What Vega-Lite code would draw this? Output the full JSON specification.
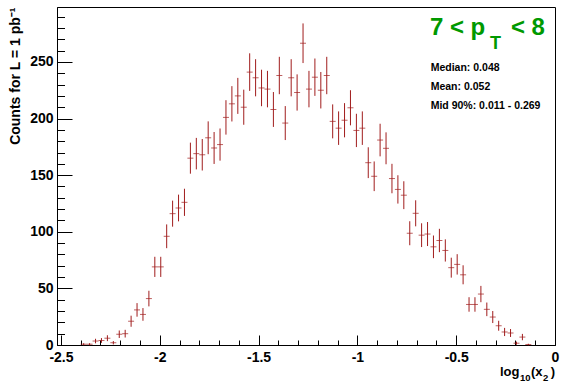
{
  "$schema": "https://vega.github.io/schema/vega-lite/v6.json",
  "width": 498,
  "height": 338,
  "autosize": {"type": "none"},
  "padding": {"left": 57, "top": 7, "right": 12, "bottom": 39},
  "background": "white",
  "config": {
    "view": {"stroke": "black", "strokeWidth": 1},
    "font": "Liberation Sans",
    "text": {"font": "Liberation Sans", "fontWeight": "bold"},
    "axis": {
      "grid": false,
      "domainColor": "black",
      "domainWidth": 1,
      "tickColor": "black",
      "tickWidth": 1,
      "labelFont": "Liberation Sans",
      "labelFontSize": 14,
      "labelFontWeight": "bold",
      "labelColor": "black",
      "titleFont": "Liberation Sans",
      "titleFontSize": 14,
      "titleFontWeight": "bold",
      "titleColor": "black"
    }
  },
  "datasets": {
    "hist": [
      {"x": -2.385, "count": 0.7, "err": 0.9},
      {"x": -2.355, "count": 0.7, "err": 0.9},
      {"x": -2.325, "count": 3.5, "err": 2.0},
      {"x": -2.295, "count": 4, "err": 2.1},
      {"x": -2.265, "count": 6, "err": 2.6},
      {"x": -2.235, "count": 2, "err": 1.5},
      {"x": -2.205, "count": 9.5, "err": 3.3},
      {"x": -2.175, "count": 10, "err": 3.4},
      {"x": -2.145, "count": 21, "err": 4.9},
      {"x": -2.115, "count": 31, "err": 6.0},
      {"x": -2.085, "count": 27, "err": 5.6},
      {"x": -2.055, "count": 41, "err": 6.9},
      {"x": -2.025, "count": 69, "err": 8.9},
      {"x": -1.995, "count": 69, "err": 8.9},
      {"x": -1.965, "count": 96, "err": 10.5},
      {"x": -1.935, "count": 116, "err": 11.5},
      {"x": -1.905, "count": 121, "err": 11.8},
      {"x": -1.875, "count": 126, "err": 12.0},
      {"x": -1.845, "count": 165, "err": 13.7},
      {"x": -1.815, "count": 169, "err": 13.9},
      {"x": -1.785, "count": 168, "err": 13.9},
      {"x": -1.755, "count": 183, "err": 14.5},
      {"x": -1.725, "count": 174, "err": 14.1},
      {"x": -1.695, "count": 177, "err": 14.2},
      {"x": -1.665, "count": 201, "err": 15.2},
      {"x": -1.635, "count": 213, "err": 15.6},
      {"x": -1.605, "count": 220, "err": 15.9},
      {"x": -1.575, "count": 210, "err": 15.5},
      {"x": -1.545, "count": 241, "err": 16.6},
      {"x": -1.515, "count": 236, "err": 16.4},
      {"x": -1.485, "count": 227, "err": 16.1},
      {"x": -1.455, "count": 226, "err": 16.1},
      {"x": -1.425, "count": 208, "err": 15.4},
      {"x": -1.395, "count": 238, "err": 16.5},
      {"x": -1.365, "count": 196, "err": 15.0},
      {"x": -1.335, "count": 236, "err": 16.4},
      {"x": -1.305, "count": 223, "err": 16.0},
      {"x": -1.275, "count": 266.5, "err": 17.5},
      {"x": -1.245, "count": 226, "err": 16.1},
      {"x": -1.215, "count": 236.5, "err": 16.5},
      {"x": -1.185, "count": 225, "err": 16.1},
      {"x": -1.155, "count": 238, "err": 16.5},
      {"x": -1.125, "count": 197.5, "err": 15.0},
      {"x": -1.095, "count": 191.5, "err": 14.8},
      {"x": -1.065, "count": 198.5, "err": 15.1},
      {"x": -1.035, "count": 209.5, "err": 15.5},
      {"x": -1.005, "count": 189.5, "err": 14.7},
      {"x": -0.975, "count": 191.5, "err": 14.8},
      {"x": -0.945, "count": 161, "err": 13.6},
      {"x": -0.915, "count": 149, "err": 13.1},
      {"x": -0.885, "count": 181, "err": 14.4},
      {"x": -0.855, "count": 173.7, "err": 14.1},
      {"x": -0.825, "count": 147, "err": 13.0},
      {"x": -0.795, "count": 137.4, "err": 12.5},
      {"x": -0.765, "count": 132.3, "err": 12.3},
      {"x": -0.735, "count": 98.7, "err": 10.6},
      {"x": -0.705, "count": 116.3, "err": 11.5},
      {"x": -0.675, "count": 97, "err": 10.5},
      {"x": -0.645, "count": 98, "err": 10.6},
      {"x": -0.615, "count": 86.7, "err": 10.0},
      {"x": -0.585, "count": 92.3, "err": 10.3},
      {"x": -0.555, "count": 83.5, "err": 9.8},
      {"x": -0.525, "count": 68.3, "err": 8.8},
      {"x": -0.495, "count": 71.2, "err": 9.0},
      {"x": -0.465, "count": 62, "err": 8.4},
      {"x": -0.435, "count": 35.8, "err": 6.4},
      {"x": -0.405, "count": 35.8, "err": 6.4},
      {"x": -0.375, "count": 45, "err": 7.2},
      {"x": -0.345, "count": 31.5, "err": 6.0},
      {"x": -0.315, "count": 24.7, "err": 5.3},
      {"x": -0.285, "count": 17, "err": 4.4},
      {"x": -0.255, "count": 11.5, "err": 3.6},
      {"x": -0.225, "count": 10.6, "err": 3.5},
      {"x": -0.195, "count": 1.6, "err": 1.4},
      {"x": -0.165, "count": 7, "err": 2.8},
      {"x": -0.135, "count": 0.4, "err": 0.7}
    ]
  },
  "layer": [
    {
      "data": {"name": "hist"},
      "mark": {"type": "errorbar", "color": "#a01c1c", "thickness": 1},
      "encoding": {
        "x": {
          "field": "x",
          "type": "quantitative",
          "title": null,
          "scale": {"domain": [-2.52, 0], "nice": false, "zero": false},
          "axis": {
            "values": [-2.5, -2.4, -2.3, -2.2, -2.1, -2, -1.9, -1.8, -1.7, -1.6, -1.5, -1.4, -1.3, -1.2, -1.1, -1, -0.9, -0.8, -0.7, -0.6, -0.5, -0.4, -0.3, -0.2, -0.1, 0],
            "tickCount": 200,
            "labelExpr": "abs(datum.value*2 - round(datum.value*2)) < 0.001 ? '' + datum.value : ''",
            "tickSize": {"condition": {"test": "abs(datum.value*2 - round(datum.value*2)) < 0.001", "value": -10}, "value": -5},
            "labelPadding": 15.5,
            "labelFlush": false,
            "labelOverlap": false
          }
        },
        "y": {
          "field": "count",
          "type": "quantitative",
          "title": "Counts for L = 1 pb⁻¹",
          "scale": {"domain": [0, 298.5], "nice": false},
          "axis": {
            "values": [0, 10, 20, 30, 40, 50, 60, 70, 80, 90, 100, 110, 120, 130, 140, 150, 160, 170, 180, 190, 200, 210, 220, 230, 240, 250, 260, 270, 280, 290],
            "tickCount": 200,
            "labelExpr": "datum.value % 50 === 0 ? '' + datum.value : ''",
            "tickSize": {"condition": {"test": "datum.value % 50 === 0", "value": -15}, "value": -7.5},
            "labelPadding": 19,
            "labelFlush": false,
            "labelOverlap": false,
            "titleAnchor": "end",
            "titleAngle": 270,
            "titleAlign": "right",
            "titleBaseline": "alphabetic",
            "titleX": -38,
            "titleY": 0
          }
        },
        "yError": {"field": "err"}
      }
    },
    {
      "data": {"name": "hist"},
      "mark": {"type": "tick", "orient": "horizontal", "size": 6, "thickness": 1, "color": "#a01c1c"},
      "encoding": {
        "x": {"field": "x", "type": "quantitative", "title": null},
        "y": {"field": "count", "type": "quantitative", "title": "Counts for L = 1 pb⁻¹"}
      }
    },
    {
      "data": {"values": [{}]},
      "mark": {"type": "text", "text": "log", "align": "left", "baseline": "alphabetic", "fontSize": 13, "color": "black"},
      "encoding": {"x": {"datum": -0.2783, "type": "quantitative"}, "y": {"datum": -27.8, "type": "quantitative"}}
    },
    {
      "data": {"values": [{}]},
      "mark": {"type": "text", "text": "10", "align": "left", "baseline": "alphabetic", "fontSize": 9.5, "color": "black"},
      "encoding": {"x": {"datum": -0.1771, "type": "quantitative"}, "y": {"datum": -31.8, "type": "quantitative"}}
    },
    {
      "data": {"values": [{}]},
      "mark": {"type": "text", "text": "(x", "align": "left", "baseline": "alphabetic", "fontSize": 13, "color": "black"},
      "encoding": {"x": {"datum": -0.1215, "type": "quantitative"}, "y": {"datum": -27.8, "type": "quantitative"}}
    },
    {
      "data": {"values": [{}]},
      "mark": {"type": "text", "text": "2", "align": "left", "baseline": "alphabetic", "fontSize": 9.5, "color": "black"},
      "encoding": {"x": {"datum": -0.0607, "type": "quantitative"}, "y": {"datum": -31.8, "type": "quantitative"}}
    },
    {
      "data": {"values": [{}]},
      "mark": {"type": "text", "text": ")", "align": "right", "baseline": "alphabetic", "fontSize": 13, "color": "black"},
      "encoding": {"x": {"datum": 0, "type": "quantitative"}, "y": {"datum": -27.8, "type": "quantitative"}}
    },
    {
      "data": {"values": [{}]},
      "mark": {"type": "text", "text": "7 < p", "align": "left", "baseline": "alphabetic", "fontSize": 24, "color": "#009900"},
      "encoding": {"x": {"datum": -0.633, "type": "quantitative"}, "y": {"datum": 273.9, "type": "quantitative"}}
    },
    {
      "data": {"values": [{}]},
      "mark": {"type": "text", "text": "T", "align": "left", "baseline": "alphabetic", "fontSize": 18, "color": "#009900"},
      "encoding": {"x": {"datum": -0.329, "type": "quantitative"}, "y": {"datum": 261.5, "type": "quantitative"}}
    },
    {
      "data": {"values": [{}]},
      "mark": {"type": "text", "text": "< 8", "align": "right", "baseline": "alphabetic", "fontSize": 24, "color": "#009900"},
      "encoding": {"x": {"datum": -0.051, "type": "quantitative"}, "y": {"datum": 273.9, "type": "quantitative"}}
    },
    {
      "data": {"values": [{}]},
      "mark": {"type": "text", "text": ["Median: 0.048", "Mean: 0.052", "Mid 90%: 0.011 - 0.269"], "align": "left", "baseline": "alphabetic", "fontSize": 10.5, "lineHeight": 19.2, "color": "black"},
      "encoding": {"x": {"datum": -0.629, "type": "quantitative"}, "y": {"datum": 242.3, "type": "quantitative"}}
    }
  ]
}
